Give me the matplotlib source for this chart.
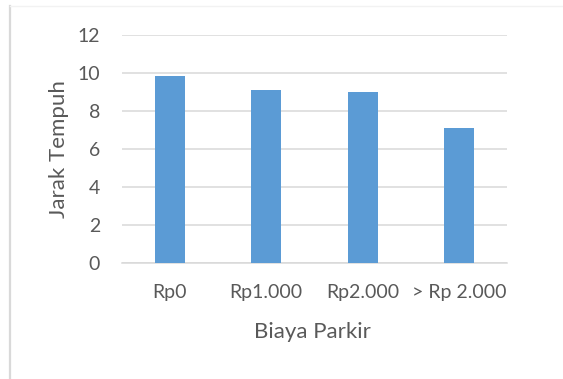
import matplotlib
matplotlib.use("Agg")
import matplotlib.pyplot as plt
from matplotlib.lines import Line2D

categories = ["Rp0", "Rp1.000", "Rp2.000", "> Rp 2.000"]
values = [9.83, 9.09, 8.98, 7.09]
yticks = [0, 2, 4, 6, 8, 10, 12]

plt.rcParams['font.family'] = ['Lato', 'DejaVu Sans']
text_color = "#595959"
grid_color = "#d9d9d9"
bar_color = "#5b9bd5"

fig = plt.figure(figsize=(5.63, 3.79), dpi=100)
ax = fig.add_axes([0.216, 0.307, 0.685, 0.601])

x = list(range(len(categories)))
ax.bar(x, values, width=0.31, color=bar_color, zorder=3)
ax.set_xlim(-0.5, len(categories) - 0.5)
ax.set_ylim(0, 12)
ax.set_yticks(yticks)
ax.set_yticklabels([str(t) for t in yticks])
ax.set_xticks(x)
ax.set_xticklabels(categories)

ax.yaxis.grid(True, color=grid_color, linewidth=1.1, zorder=0)
ax.set_axisbelow(True)
for s in ["top", "right", "left"]:
    ax.spines[s].set_visible(False)
ax.spines["bottom"].set_color(grid_color)
ax.spines["bottom"].set_linewidth(1.1)

ax.tick_params(axis="y", length=0, pad=15.5, labelsize=14, labelcolor=text_color)
ax.tick_params(axis="x", length=0, pad=15.5, labelsize=14, labelcolor=text_color)

ax.set_ylabel("Jarak Tempuh", fontsize=16, color=text_color)
ax.yaxis.set_label_coords(-0.137, 0.5)
ax.set_xlabel("Biaya Parkir", fontsize=16, color=text_color)
ax.xaxis.set_label_coords(0.496, -0.262)

# chart-area border (left and faint top)
fig.add_artist(Line2D([10/563, 10/563], [0, 1 - 6/379], transform=fig.transFigure,
                      color="#d9d9d9", linewidth=1.6))
fig.add_artist(Line2D([10/563, 1], [1 - 6/379, 1 - 6/379], transform=fig.transFigure,
                      color="#f2f2f2", linewidth=1.0))

fig.savefig("out.png", dpi=100)
